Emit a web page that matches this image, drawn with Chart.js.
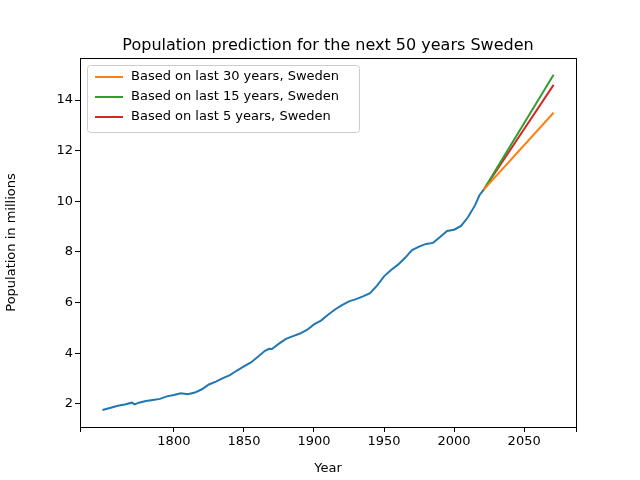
<!DOCTYPE html>
<html><head><script src="https://cdn.jsdelivr.net/npm/chart.js"></script>
<style>body{margin:0;background:#fff}</style></head><body>
<canvas id="c" width="640" height="480" style="width:640px;height:480px"></canvas>
<script>
const years=[1749,1755,1760,1765,1770,1772,1775,1780,1785,1790,1795,1800,1805,1810,1815,1820,1825,1830,1835,1840,1845,1850,1855,1860,1865,1868,1870,1875,1880,1885,1890,1895,1900,1905,1910,1915,1920,1925,1930,1935,1940,1945,1950,1955,1960,1965,1970,1975,1980,1985,1990,1995,2000,2005,2010,2015,2018,2021];
const population=[1.76,1.85,1.93,1.98,2.05,1.98,2.05,2.12,2.16,2.2,2.3,2.35,2.42,2.38,2.45,2.58,2.77,2.88,3.02,3.14,3.32,3.48,3.64,3.86,4.1,4.18,4.17,4.38,4.57,4.68,4.78,4.92,5.14,5.29,5.52,5.73,5.9,6.05,6.14,6.25,6.37,6.67,7.04,7.29,7.5,7.77,8.08,8.21,8.32,8.36,8.59,8.83,8.88,9.03,9.38,9.85,10.23,10.45];
const predYears=[2021,2071];
const pred30=[10.45,13.5];
const pred15=[10.45,15.0];
const pred5=[10.45,14.6];
const labels=["Based on last 30 years, Sweden","Based on last 15 years, Sweden","Based on last 5 years, Sweden"];
const colors=["#ff7f0e","#2ca02c","#d62728"];
const F="DejaVu Sans";
const pts=(xs,ys)=>xs.map((x,i)=>({x,y:ys[i]}));
const ds=(d,c,l)=>({label:l,data:d,borderColor:c,backgroundColor:c,borderWidth:2,pointRadius:0,showLine:true,tension:0});
const deco={id:'deco',afterDraw(ch){const c=ch.ctx,a=ch.chartArea;c.save();
c.strokeStyle='#000';c.lineWidth=1;c.strokeRect(Math.round(a.left)+.5,Math.round(a.top)+.5,Math.round(a.right-a.left),Math.round(a.bottom-a.top));
c.fillStyle='#000';c.font='16px '+F;c.textAlign='center';c.textBaseline='alphabetic';c.fillText('Population prediction for the next 50 years Sweden',(a.left+a.right)/2,50);
const x0=87,y0=65,w=272,h=67;c.fillStyle='rgba(255,255,255,0.8)';c.strokeStyle='#ccc';c.beginPath();c.roundRect(x0+.5,y0+.5,w,h,3);c.fill();c.stroke();
c.font='13px '+F;c.textAlign='left';c.textBaseline='middle';
labels.forEach((l,i)=>{const y=y0+12+i*20;c.strokeStyle=colors[i];c.lineWidth=2;c.beginPath();c.moveTo(x0+8,y);c.lineTo(x0+36,y);c.stroke();c.fillStyle='#000';c.fillText(l,x0+44,y);});
c.restore();}};
new Chart(document.getElementById('c'),{type:'scatter',
data:{datasets:[ds(pts(years,population),'#1f77b4','Sweden'),ds(pts(predYears,pred30),colors[0],labels[0]),ds(pts(predYears,pred15),colors[1],labels[1]),ds(pts(predYears,pred5),colors[2],labels[2])]},
options:{responsive:false,animation:false,layout:{padding:{top:58,right:64,left:0,bottom:0}},
plugins:{legend:{display:false},tooltip:{enabled:false}},
scales:{x:{type:'linear',min:1733,max:2087,afterFit(s){s.height=53;},
ticks:{stepSize:50,color:'#000',font:{family:F,size:13},padding:2,callback:v=>v%50===0?String(v):''},
grid:{drawOnChartArea:false,tickLength:5,color:'#000'},border:{display:false},
title:{display:true,text:'Year',color:'#000',font:{family:F,size:13},padding:{top:2}}},
y:{min:1.09,max:15.66,afterFit(s){s.width=80;},
ticks:{stepSize:2,color:'#000',font:{family:F,size:13},padding:2,callback:v=>Number.isInteger(v)&&v%2===0?String(v):''},
afterBuildTicks(s){s.ticks=[2,4,6,8,10,12,14].map(v=>({value:v}));},
grid:{drawOnChartArea:false,tickLength:5,color:'#000'},border:{display:false},
title:{display:true,text:'Population in millions',color:'#000',font:{family:F,size:13},padding:{bottom:4}}}}},
plugins:[deco]});
</script></body></html>
